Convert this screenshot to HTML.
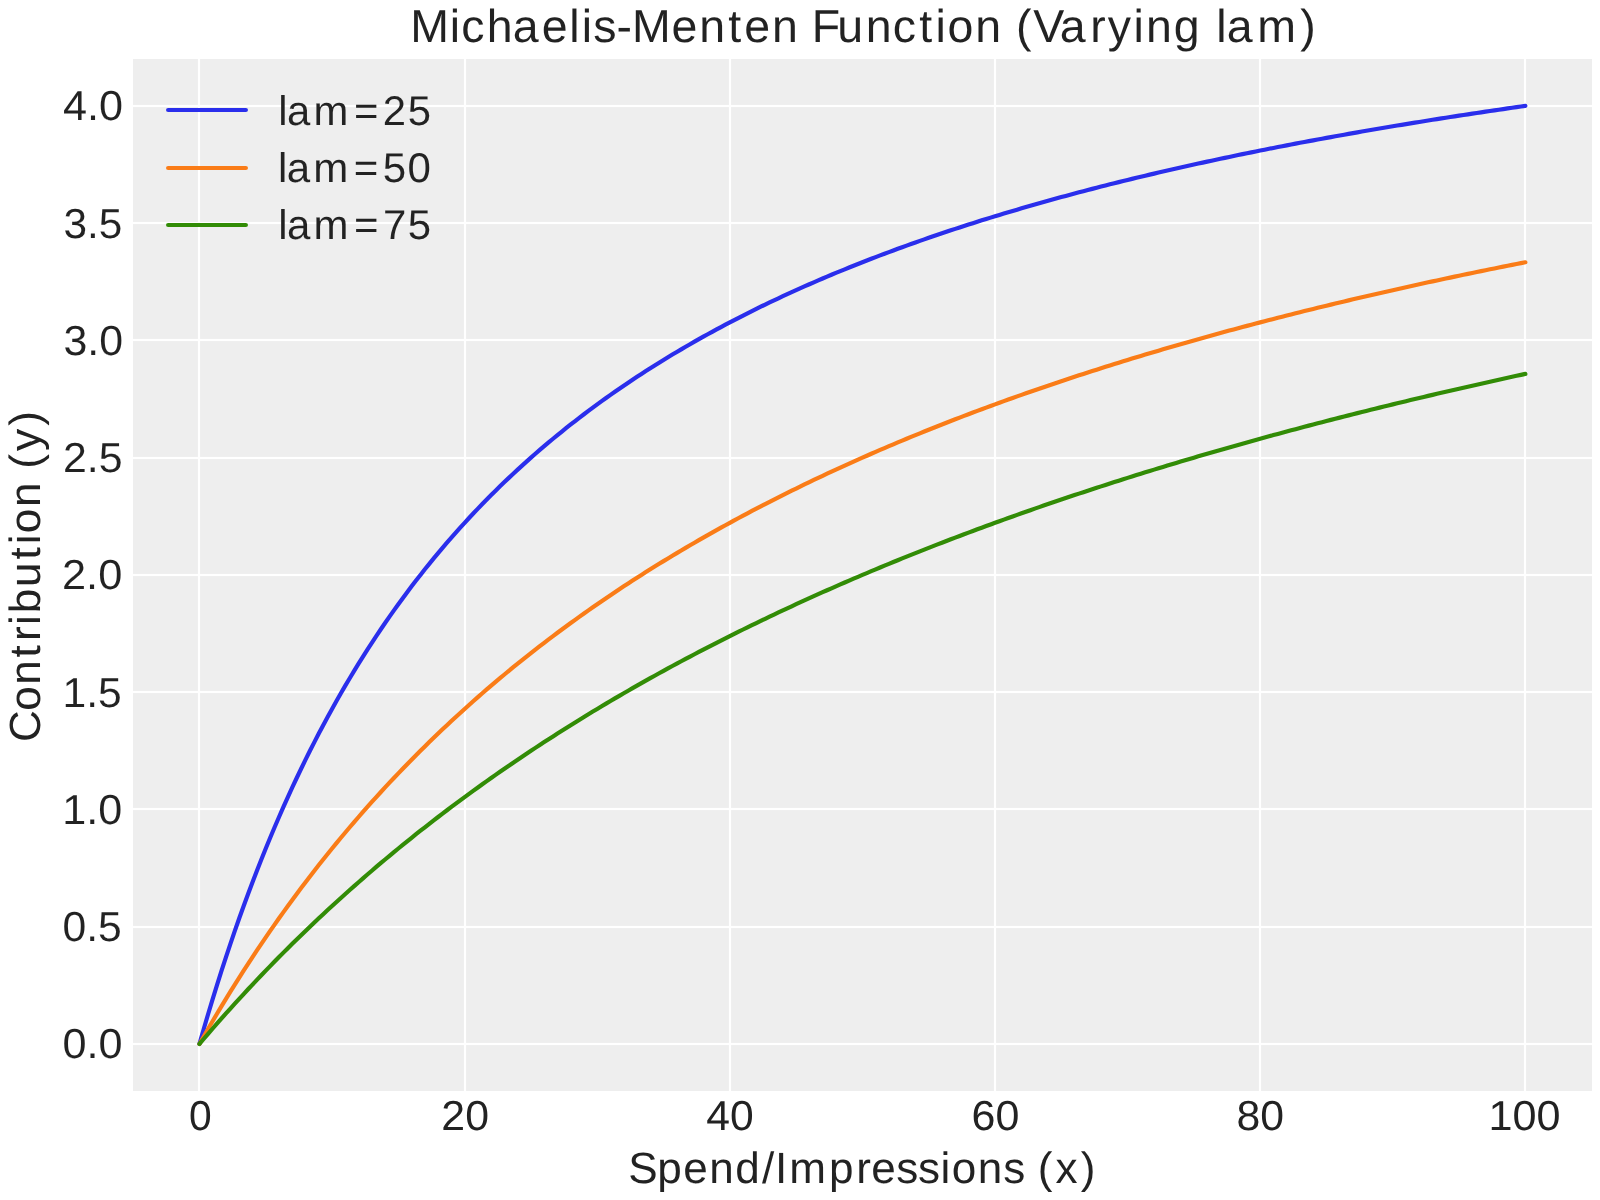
<!DOCTYPE html>
<html><head><meta charset="utf-8"><title>Michaelis-Menten Function (Varying lam)</title>
<style>
html,body{margin:0;padding:0;background:#ffffff;}
body{width:1600px;height:1200px;overflow:hidden;}
svg{display:block;will-change:transform;}
text{font-family:"Liberation Sans", sans-serif;font-kerning:none;text-rendering:geometricPrecision;}
</style></head><body>
<svg width="1600" height="1200" viewBox="0 0 1600 1200">
<rect x="133.00" y="59.00" width="1459.00" height="1032.00" fill="#eeeeee"/>
<g fill="#ffffff"><rect x="197.9" y="59.00" width="2.2" height="1032.00"/><rect x="463.9" y="59.00" width="2.2" height="1032.00"/><rect x="728.9" y="59.00" width="2.2" height="1032.00"/><rect x="993.9" y="59.00" width="2.2" height="1032.00"/><rect x="1258.9" y="59.00" width="2.2" height="1032.00"/><rect x="1523.9" y="59.00" width="2.2" height="1032.00"/><rect x="133.00" y="104.9" width="1459.00" height="2.2"/><rect x="133.00" y="221.9" width="1459.00" height="2.2"/><rect x="133.00" y="338.9" width="1459.00" height="2.2"/><rect x="133.00" y="456.9" width="1459.00" height="2.2"/><rect x="133.00" y="573.9" width="1459.00" height="2.2"/><rect x="133.00" y="690.9" width="1459.00" height="2.2"/><rect x="133.00" y="807.9" width="1459.00" height="2.2"/><rect x="133.00" y="925.9" width="1459.00" height="2.2"/><rect x="133.00" y="1042.9" width="1459.00" height="2.2"/></g>
<g fill="none" stroke-width="4.17" stroke-linecap="round" stroke-linejoin="round">
<path stroke="#2a2eec" d="M199.46,1043.93L203.88,1028.50L208.30,1013.48L212.72,998.83L217.14,984.56L221.56,970.65L225.98,957.08L230.40,943.84L234.82,930.92L239.24,918.30L243.66,905.99L248.08,893.96L252.50,882.20L256.92,870.72L261.34,859.49L265.76,848.51L270.18,837.77L274.60,827.27L279.02,816.99L283.44,806.93L287.86,797.08L292.28,787.44L296.70,778.00L301.12,768.74L305.54,759.68L309.95,750.80L314.37,742.09L318.79,733.55L323.21,725.18L327.63,716.97L332.05,708.92L336.47,701.02L340.89,693.27L345.31,685.66L349.73,678.19L354.15,670.85L358.57,663.65L362.99,656.58L367.41,649.63L371.83,642.80L376.25,636.09L380.67,629.50L385.09,623.02L389.51,616.65L393.93,610.39L398.35,604.23L402.77,598.17L407.19,592.22L411.61,586.36L416.03,580.59L420.45,574.92L424.87,569.33L429.29,563.84L433.71,558.43L438.13,553.10L442.55,547.86L446.97,542.69L451.38,537.61L455.80,532.60L460.22,527.67L464.64,522.80L469.06,518.01L473.48,513.29L477.90,508.64L482.32,504.06L486.74,499.54L491.16,495.08L495.58,490.69L500.00,486.36L504.42,482.09L508.84,477.88L513.26,473.73L517.68,469.63L522.10,465.59L526.52,461.60L530.94,457.66L535.36,453.78L539.78,449.95L544.20,446.17L548.62,442.44L553.04,438.75L557.46,435.11L561.88,431.52L566.30,427.98L570.72,424.48L575.14,421.02L579.56,417.61L583.98,414.24L588.40,410.91L592.82,407.62L597.23,404.37L601.65,401.16L606.07,397.98L610.49,394.85L614.91,391.75L619.33,388.69L623.75,385.67L628.17,382.68L632.59,379.72L637.01,376.80L641.43,373.91L645.85,371.06L650.27,368.23L654.69,365.44L659.11,362.68L663.53,359.95L667.95,357.25L672.37,354.58L676.79,351.94L681.21,349.33L685.63,346.75L690.05,344.19L694.47,341.66L698.89,339.16L703.31,336.69L707.73,334.24L712.15,331.82L716.57,329.42L720.99,327.04L725.41,324.70L729.83,322.37L734.25,320.07L738.67,317.79L743.08,315.54L747.50,313.31L751.92,311.10L756.34,308.91L760.76,306.74L765.18,304.60L769.60,302.47L774.02,300.37L778.44,298.29L782.86,296.23L787.28,294.18L791.70,292.16L796.12,290.16L800.54,288.17L804.96,286.21L809.38,284.26L813.80,282.33L818.22,280.42L822.64,278.53L827.06,276.65L831.48,274.79L835.90,272.95L840.32,271.12L844.74,269.31L849.16,267.52L853.58,265.75L858.00,263.99L862.42,262.24L866.84,260.51L871.26,258.80L875.68,257.10L880.10,255.41L884.51,253.74L888.93,252.09L893.35,250.45L897.77,248.82L902.19,247.21L906.61,245.61L911.03,244.02L915.45,242.45L919.87,240.89L924.29,239.35L928.71,237.81L933.13,236.29L937.55,234.78L941.97,233.29L946.39,231.81L950.81,230.33L955.23,228.88L959.65,227.43L964.07,225.99L968.49,224.57L972.91,223.16L977.33,221.75L981.75,220.36L986.17,218.99L990.59,217.62L995.01,216.26L999.43,214.91L1003.85,213.58L1008.27,212.25L1012.69,210.93L1017.11,209.63L1021.53,208.33L1025.95,207.04L1030.36,205.77L1034.78,204.50L1039.20,203.25L1043.62,202.00L1048.04,200.76L1052.46,199.53L1056.88,198.31L1061.30,197.10L1065.72,195.90L1070.14,194.70L1074.56,193.52L1078.98,192.34L1083.40,191.18L1087.82,190.02L1092.24,188.87L1096.66,187.73L1101.08,186.59L1105.50,185.47L1109.92,184.35L1114.34,183.24L1118.76,182.14L1123.18,181.04L1127.60,179.96L1132.02,178.88L1136.44,177.81L1140.86,176.74L1145.28,175.69L1149.70,174.64L1154.12,173.60L1158.54,172.56L1162.96,171.53L1167.38,170.51L1171.80,169.50L1176.21,168.49L1180.63,167.49L1185.05,166.50L1189.47,165.51L1193.89,164.53L1198.31,163.56L1202.73,162.59L1207.15,161.63L1211.57,160.67L1215.99,159.72L1220.41,158.78L1224.83,157.85L1229.25,156.92L1233.67,155.99L1238.09,155.07L1242.51,154.16L1246.93,153.25L1251.35,152.35L1255.77,151.46L1260.19,150.57L1264.61,149.69L1269.03,148.81L1273.45,147.94L1277.87,147.07L1282.29,146.21L1286.71,145.35L1291.13,144.50L1295.55,143.66L1299.97,142.82L1304.39,141.98L1308.81,141.15L1313.23,140.33L1317.64,139.51L1322.06,138.69L1326.48,137.88L1330.90,137.08L1335.32,136.28L1339.74,135.48L1344.16,134.69L1348.58,133.90L1353.00,133.12L1357.42,132.35L1361.84,131.57L1366.26,130.81L1370.68,130.04L1375.10,129.28L1379.52,128.53L1383.94,127.78L1388.36,127.04L1392.78,126.29L1397.20,125.56L1401.62,124.83L1406.04,124.10L1410.46,123.37L1414.88,122.65L1419.30,121.94L1423.72,121.23L1428.14,120.52L1432.56,119.81L1436.98,119.11L1441.40,118.42L1445.82,117.73L1450.24,117.04L1454.66,116.35L1459.08,115.67L1463.49,115.00L1467.91,114.32L1472.33,113.65L1476.75,112.99L1481.17,112.33L1485.59,111.67L1490.01,111.01L1494.43,110.36L1498.85,109.72L1503.27,109.07L1507.69,108.43L1512.11,107.79L1516.53,107.16L1520.95,106.53L1525.37,105.90"/>
<path stroke="#fa7c17" d="M199.46,1043.93L203.88,1036.17L208.30,1028.50L212.72,1020.94L217.14,1013.48L221.56,1006.11L225.98,998.83L230.40,991.65L234.82,984.56L239.24,977.56L243.66,970.65L248.08,963.82L252.50,957.08L256.92,950.42L261.34,943.84L265.76,937.34L270.18,930.92L274.60,924.57L279.02,918.30L283.44,912.11L287.86,905.99L292.28,899.94L296.70,893.96L301.12,888.05L305.54,882.20L309.95,876.43L314.37,870.72L318.79,865.07L323.21,859.49L327.63,853.97L332.05,848.51L336.47,843.11L340.89,837.77L345.31,832.49L349.73,827.27L354.15,822.10L358.57,816.99L362.99,811.93L367.41,806.93L371.83,801.98L376.25,797.08L380.67,792.24L385.09,787.44L389.51,782.69L393.93,778.00L398.35,773.35L402.77,768.74L407.19,764.19L411.61,759.68L416.03,755.22L420.45,750.80L424.87,746.42L429.29,742.09L433.71,737.80L438.13,733.55L442.55,729.35L446.97,725.18L451.38,721.06L455.80,716.97L460.22,712.93L464.64,708.92L469.06,704.95L473.48,701.02L477.90,697.13L482.32,693.27L486.74,689.44L491.16,685.66L495.58,681.90L500.00,678.19L504.42,674.50L508.84,670.85L513.26,667.23L517.68,663.65L522.10,660.10L526.52,656.58L530.94,653.09L535.36,649.63L539.78,646.20L544.20,642.80L548.62,639.43L553.04,636.09L557.46,632.78L561.88,629.50L566.30,626.25L570.72,623.02L575.14,619.82L579.56,616.65L583.98,613.51L588.40,610.39L592.82,607.30L597.23,604.23L601.65,601.19L606.07,598.17L610.49,595.18L614.91,592.22L619.33,589.27L623.75,586.36L628.17,583.46L632.59,580.59L637.01,577.74L641.43,574.92L645.85,572.11L650.27,569.33L654.69,566.57L659.11,563.84L663.53,561.12L667.95,558.43L672.37,555.75L676.79,553.10L681.21,550.47L685.63,547.86L690.05,545.27L694.47,542.69L698.89,540.14L703.31,537.61L707.73,535.10L712.15,532.60L716.57,530.12L720.99,527.67L725.41,525.23L729.83,522.80L734.25,520.40L738.67,518.01L743.08,515.65L747.50,513.29L751.92,510.96L756.34,508.64L760.76,506.34L765.18,504.06L769.60,501.79L774.02,499.54L778.44,497.30L782.86,495.08L787.28,492.88L791.70,490.69L796.12,488.52L800.54,486.36L804.96,484.22L809.38,482.09L813.80,479.98L818.22,477.88L822.64,475.80L827.06,473.73L831.48,471.67L835.90,469.63L840.32,467.60L844.74,465.59L849.16,463.59L853.58,461.60L858.00,459.62L862.42,457.66L866.84,455.72L871.26,453.78L875.68,451.86L880.10,449.95L884.51,448.05L888.93,446.17L893.35,444.30L897.77,442.44L902.19,440.59L906.61,438.75L911.03,436.93L915.45,435.11L919.87,433.31L924.29,431.52L928.71,429.75L933.13,427.98L937.55,426.22L941.97,424.48L946.39,422.74L950.81,421.02L955.23,419.31L959.65,417.61L964.07,415.92L968.49,414.24L972.91,412.57L977.33,410.91L981.75,409.26L986.17,407.62L990.59,405.99L995.01,404.37L999.43,402.76L1003.85,401.16L1008.27,399.56L1012.69,397.98L1017.11,396.41L1021.53,394.85L1025.95,393.30L1030.36,391.75L1034.78,390.22L1039.20,388.69L1043.62,387.17L1048.04,385.67L1052.46,384.17L1056.88,382.68L1061.30,381.19L1065.72,379.72L1070.14,378.26L1074.56,376.80L1078.98,375.35L1083.40,373.91L1087.82,372.48L1092.24,371.06L1096.66,369.64L1101.08,368.23L1105.50,366.83L1109.92,365.44L1114.34,364.06L1118.76,362.68L1123.18,361.31L1127.60,359.95L1132.02,358.60L1136.44,357.25L1140.86,355.91L1145.28,354.58L1149.70,353.26L1154.12,351.94L1158.54,350.63L1162.96,349.33L1167.38,348.04L1171.80,346.75L1176.21,345.47L1180.63,344.19L1185.05,342.92L1189.47,341.66L1193.89,340.41L1198.31,339.16L1202.73,337.92L1207.15,336.69L1211.57,335.46L1215.99,334.24L1220.41,333.02L1224.83,331.82L1229.25,330.61L1233.67,329.42L1238.09,328.23L1242.51,327.04L1246.93,325.87L1251.35,324.70L1255.77,323.53L1260.19,322.37L1264.61,321.22L1269.03,320.07L1273.45,318.93L1277.87,317.79L1282.29,316.66L1286.71,315.54L1291.13,314.42L1295.55,313.31L1299.97,312.20L1304.39,311.10L1308.81,310.00L1313.23,308.91L1317.64,307.82L1322.06,306.74L1326.48,305.67L1330.90,304.60L1335.32,303.53L1339.74,302.47L1344.16,301.42L1348.58,300.37L1353.00,299.33L1357.42,298.29L1361.84,297.26L1366.26,296.23L1370.68,295.20L1375.10,294.18L1379.52,293.17L1383.94,292.16L1388.36,291.16L1392.78,290.16L1397.20,289.16L1401.62,288.17L1406.04,287.19L1410.46,286.21L1414.88,285.23L1419.30,284.26L1423.72,283.29L1428.14,282.33L1432.56,281.37L1436.98,280.42L1441.40,279.47L1445.82,278.53L1450.24,277.59L1454.66,276.65L1459.08,275.72L1463.49,274.79L1467.91,273.87L1472.33,272.95L1476.75,272.03L1481.17,271.12L1485.59,270.22L1490.01,269.31L1494.43,268.42L1498.85,267.52L1503.27,266.63L1507.69,265.75L1512.11,264.86L1516.53,263.99L1520.95,263.11L1525.37,262.24"/>
<path stroke="#328c06" d="M199.46,1043.93L203.88,1038.74L208.30,1033.60L212.72,1028.50L217.14,1023.45L221.56,1018.44L225.98,1013.48L230.40,1008.55L234.82,1003.67L239.24,998.83L243.66,994.04L248.08,989.28L252.50,984.56L256.92,979.89L261.34,975.25L265.76,970.65L270.18,966.09L274.60,961.56L279.02,957.08L283.44,952.63L287.86,948.21L292.28,943.84L296.70,939.50L301.12,935.19L305.54,930.92L309.95,926.68L314.37,922.47L318.79,918.30L323.21,914.16L327.63,910.06L332.05,905.99L336.47,901.94L340.89,897.93L345.31,893.96L349.73,890.01L354.15,886.09L358.57,882.20L362.99,878.34L367.41,874.52L371.83,870.72L376.25,866.94L380.67,863.20L385.09,859.49L389.51,855.80L393.93,852.14L398.35,848.51L402.77,844.90L407.19,841.32L411.61,837.77L416.03,834.24L420.45,830.74L424.87,827.27L429.29,823.82L433.71,820.39L438.13,816.99L442.55,813.61L446.97,810.26L451.38,806.93L455.80,803.62L460.22,800.34L464.64,797.08L469.06,793.85L473.48,790.63L477.90,787.44L482.32,784.27L486.74,781.12L491.16,778.00L495.58,774.89L500.00,771.81L504.42,768.74L508.84,765.70L513.26,762.68L517.68,759.68L522.10,756.70L526.52,753.74L530.94,750.80L535.36,747.88L539.78,744.97L544.20,742.09L548.62,739.23L553.04,736.38L557.46,733.55L561.88,730.75L566.30,727.96L570.72,725.18L575.14,722.43L579.56,719.69L583.98,716.97L588.40,714.27L592.82,711.59L597.23,708.92L601.65,706.27L606.07,703.64L610.49,701.02L614.91,698.42L619.33,695.83L623.75,693.27L628.17,690.71L632.59,688.18L637.01,685.66L641.43,683.15L645.85,680.66L650.27,678.19L654.69,675.73L659.11,673.28L663.53,670.85L667.95,668.44L672.37,666.04L676.79,663.65L681.21,661.28L685.63,658.92L690.05,656.58L694.47,654.25L698.89,651.93L703.31,649.63L707.73,647.34L712.15,645.06L716.57,642.80L720.99,640.55L725.41,638.32L729.83,636.09L734.25,633.88L738.67,631.69L743.08,629.50L747.50,627.33L751.92,625.17L756.34,623.02L760.76,620.89L765.18,618.76L769.60,616.65L774.02,614.55L778.44,612.46L782.86,610.39L787.28,608.32L791.70,606.27L796.12,604.23L800.54,602.20L804.96,600.18L809.38,598.17L813.80,596.18L818.22,594.19L822.64,592.22L827.06,590.25L831.48,588.30L835.90,586.36L840.32,584.42L844.74,582.50L849.16,580.59L853.58,578.69L858.00,576.80L862.42,574.92L866.84,573.05L871.26,571.18L875.68,569.33L880.10,567.49L884.51,565.66L888.93,563.84L893.35,562.03L897.77,560.22L902.19,558.43L906.61,556.64L911.03,554.87L915.45,553.10L919.87,551.35L924.29,549.60L928.71,547.86L933.13,546.13L937.55,544.41L941.97,542.69L946.39,540.99L950.81,539.30L955.23,537.61L959.65,535.93L964.07,534.26L968.49,532.60L972.91,530.95L977.33,529.30L981.75,527.67L986.17,526.04L990.59,524.42L995.01,522.80L999.43,521.20L1003.85,519.60L1008.27,518.01L1012.69,516.43L1017.11,514.86L1021.53,513.29L1025.95,511.74L1030.36,510.19L1034.78,508.64L1039.20,507.11L1043.62,505.58L1048.04,504.06L1052.46,502.55L1056.88,501.04L1061.30,499.54L1065.72,498.05L1070.14,496.56L1074.56,495.08L1078.98,493.61L1083.40,492.15L1087.82,490.69L1092.24,489.24L1096.66,487.80L1101.08,486.36L1105.50,484.93L1109.92,483.51L1114.34,482.09L1118.76,480.68L1123.18,479.28L1127.60,477.88L1132.02,476.49L1136.44,475.10L1140.86,473.73L1145.28,472.35L1149.70,470.99L1154.12,469.63L1158.54,468.27L1162.96,466.93L1167.38,465.59L1171.80,464.25L1176.21,462.92L1180.63,461.60L1185.05,460.28L1189.47,458.97L1193.89,457.66L1198.31,456.36L1202.73,455.07L1207.15,453.78L1211.57,452.50L1215.99,451.22L1220.41,449.95L1224.83,448.68L1229.25,447.42L1233.67,446.17L1238.09,444.92L1242.51,443.67L1246.93,442.44L1251.35,441.20L1255.77,439.97L1260.19,438.75L1264.61,437.53L1269.03,436.32L1273.45,435.11L1277.87,433.91L1282.29,432.72L1286.71,431.52L1291.13,430.34L1295.55,429.16L1299.97,427.98L1304.39,426.81L1308.81,425.64L1313.23,424.48L1317.64,423.32L1322.06,422.17L1326.48,421.02L1330.90,419.88L1335.32,418.74L1339.74,417.61L1344.16,416.48L1348.58,415.36L1353.00,414.24L1357.42,413.12L1361.84,412.01L1366.26,410.91L1370.68,409.80L1375.10,408.71L1379.52,407.62L1383.94,406.53L1388.36,405.45L1392.78,404.37L1397.20,403.29L1401.62,402.22L1406.04,401.16L1410.46,400.09L1414.88,399.04L1419.30,397.98L1423.72,396.93L1428.14,395.89L1432.56,394.85L1436.98,393.81L1441.40,392.78L1445.82,391.75L1450.24,390.73L1454.66,389.71L1459.08,388.69L1463.49,387.68L1467.91,386.67L1472.33,385.67L1476.75,384.66L1481.17,383.67L1485.59,382.68L1490.01,381.69L1494.43,380.70L1498.85,379.72L1503.27,378.74L1507.69,377.77L1512.11,376.80L1516.53,375.83L1520.95,374.87L1525.37,373.91"/>
<path stroke="#2a2eec" d="M168.1,110.00L245.9,110.00"/>
<path stroke="#fa7c17" d="M168.1,168.00L245.9,168.00"/>
<path stroke="#328c06" d="M168.1,225.00L245.9,225.00"/>
</g>
<g fill="#222222">
<text font-size="46.20" transform="matrix(1.00715,0,0,1,440.016,41.600)" x="-29.50 9.79 21.09 46.46 72.27 101.12 128.45 140.73 152.23 175.23 190.69 229.78 257.34 286.20 302.20 329.76 355.46 369.02 394.54 422.69 449.49 475.81 492.02 503.92 531.49 557.18 572.00 589.14 615.24 645.50 662.91 688.55 701.02 728.65 754.34 770.79 781.07 811.46 854.16" stroke="#ffffff" stroke-width="0.03">Michaelis-Menten Function (Varying lam)</text>
<text font-size="41.90" transform="matrix(1.03142,0,0,1,62.425,1058.432)" stroke="#ffffff" stroke-width="0.05">0.0</text>
<text font-size="41.90" transform="matrix(1.01884,0,0,1,62.446,941.178)" stroke="#ffffff" stroke-width="0.05">0.5</text>
<text font-size="41.90" transform="matrix(1.02945,0,0,1,62.287,823.924)" stroke="#ffffff" stroke-width="0.05">1.0</text>
<text font-size="41.90" transform="matrix(1.01650,0,0,1,62.578,706.671)" stroke="#ffffff" stroke-width="0.05">1.5</text>
<text font-size="41.90" transform="matrix(1.03510,0,0,1,61.967,589.417)" stroke="#ffffff" stroke-width="0.05">2.0</text>
<text font-size="41.90" transform="matrix(1.02242,0,0,1,62.994,472.163)" stroke="#ffffff" stroke-width="0.05">2.5</text>
<text font-size="41.90" transform="matrix(1.02340,0,0,1,63.379,354.910)" stroke="#ffffff" stroke-width="0.05">3.0</text>
<text font-size="41.90" transform="matrix(1.01082,0,0,1,63.399,237.656)" stroke="#ffffff" stroke-width="0.05">3.5</text>
<text font-size="41.90" transform="matrix(1.03085,0,0,1,62.958,120.402)" stroke="#ffffff" stroke-width="0.05">4.0</text>
<text font-size="41.90" transform="matrix(0.97349,0,0,1,188.960,1129.700)">0</text>
<text font-size="41.90" transform="matrix(1.02268,0,0,1,441.305,1129.700)">20</text>
<text font-size="41.90" transform="matrix(1.01752,0,0,1,706.216,1129.700)">40</text>
<text font-size="41.90" transform="matrix(1.02626,0,0,1,971.507,1129.700)">60</text>
<text font-size="41.90" transform="matrix(1.02071,0,0,1,1236.438,1129.700)">80</text>
<text font-size="41.90" transform="matrix(1.03004,0,0,1,1488.510,1129.700)">100</text>
<text font-size="43.80" transform="matrix(1.00665,0,0,1,641.822,1182.800)" x="-13.38 15.35 41.05 66.90 92.82 119.27 132.35 146.57 186.07 213.14 227.88 252.83 274.40 296.74 307.83 333.69 359.02 380.92 393.29 410.97 436.15" stroke="#ffffff" stroke-width="0.03">Spend/Impressions (x)</text>
<text font-size="41.40" transform="matrix(1.01104,0,0,1,285.062,124.900)" x="-6.84 1.90 28.26 68.17 96.57 121.41" stroke="#eeeeee" stroke-width="0.05">lam=25</text>
<text font-size="41.40" transform="matrix(1.01688,0,0,1,284.755,182.100)" x="-6.78 1.87 28.06 67.77 96.37 120.84" stroke="#eeeeee" stroke-width="0.05">lam=50</text>
<text font-size="41.40" transform="matrix(1.01344,0,0,1,284.896,239.300)" x="-6.68 2.03 28.32 68.15 96.91 121.26" stroke="#eeeeee" stroke-width="0.05">lam=75</text>
<text font-size="43.60" transform="translate(40.00,1200) rotate(-90) matrix(1.00973,0,0,1,473.275,0)" x="-15.16 15.74 41.52 68.55 84.82 100.69 112.47 138.30 165.51 180.68 191.74 217.52 241.77 255.44 273.15 298.16" stroke="#222222" stroke-width="0.03">Contribution (y)</text>
</g>
</svg>
</body></html>
